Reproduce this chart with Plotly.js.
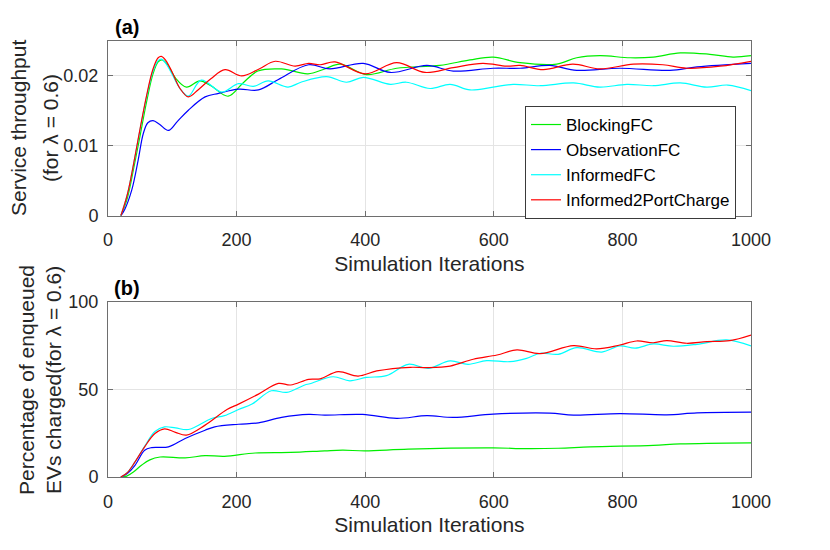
<!DOCTYPE html>
<html>
<head>
<meta charset="utf-8">
<script src="https://cdn.plot.ly/plotly-3.0.1.min.js"></script>
<style>html,body{margin:0;padding:0;background:#fff;}#chart{width:830px;height:550px;}</style>
</head>
<body>
<div id="chart"></div>
<script>
// ---- Panel (a): Service throughput ----
const seriesNames = ["BlockingFC", "ObservationFC", "InformedFC", "Informed2PortCharge"];

const xThrBlocking = [20,30,40,50,60,70,78,84,92,105,122,143,160,187,210,233,270,311,337,361,402,449,516,563,599,641,698,729,765,812,848,890,936,972,1000];
const yThrBlocking = [0,0.0025,0.0068,0.0115,0.0163,0.0203,0.0220,0.0223,0.0217,0.0197,0.0184,0.0193,0.0186,0.0171,0.0190,0.0207,0.0210,0.0203,0.0210,0.0217,0.0202,0.0211,0.0215,0.0223,0.0227,0.0219,0.0217,0.0226,0.0229,0.0226,0.0227,0.0233,0.0231,0.0227,0.0229];

const xThrObservation = [20,26,37,47,55,62,70,80,94,108,125,151,172,203,234,265,312,345,397,439,496,537,599,641,687,729,796,874,916,1000];
const yThrObservation = [0,0.0009,0.0037,0.0080,0.0118,0.0133,0.0136,0.0131,0.0122,0.0135,0.0151,0.0170,0.0175,0.0181,0.0180,0.0195,0.0216,0.0210,0.0218,0.0205,0.0215,0.0207,0.0211,0.0211,0.0215,0.0208,0.0211,0.0208,0.0213,0.0218];

const xThrInformed = [20,30,40,50,60,70,78,83,90,100,112,125,145,177,203,226,249,280,300,340,371,397,439,464,501,532,563,599,630,672,724,765,807,848,890,931,964,1000];
const yThrInformed = [0,0.0030,0.0075,0.0124,0.0170,0.0207,0.0222,0.0224,0.0218,0.0202,0.0182,0.0171,0.0194,0.0177,0.0189,0.0185,0.0193,0.0184,0.0191,0.0199,0.0191,0.0198,0.0188,0.0191,0.0182,0.0188,0.0180,0.0184,0.0188,0.0186,0.0190,0.0184,0.0188,0.0186,0.0190,0.0184,0.0187,0.0179];

const xThrInformed2 = [20,30,40,50,60,70,78,83,90,100,112,125,140,160,182,208,235,260,291,312,330,353,400,449,493,537,583,620,641,677,723,765,817,863,900,952,1000];
const yThrInformed2 = [0,0.0030,0.0075,0.0125,0.0172,0.0210,0.0226,0.0228,0.0222,0.0205,0.0182,0.0170,0.0180,0.0196,0.0209,0.0200,0.0210,0.0221,0.0214,0.0218,0.0216,0.0220,0.0203,0.0219,0.0205,0.0212,0.0218,0.0214,0.0215,0.0209,0.0217,0.0210,0.0217,0.0216,0.0211,0.0214,0.0221];

// ---- Panel (b): Percentage of enqueued EVs charged ----
const xPctBlocking = [20,29,40,52,65,81,120,151,181,229,284,337,365,400,467,599,650,700,750,848,890,1000];
const yPctBlocking = [0,0.5,3,6.7,9.8,11.4,10.9,12.2,11.8,13.7,14,14.9,15.3,14.9,15.9,16.6,16.2,16.4,17.2,18.1,18.9,19.5];

const xPctObservation = [20,30,42,57,68,94,120,151,166,203,234,270,312,337,396,449,496,537,599,687,724,796,869,916,1000];
const yPctObservation = [0,2,6.7,15.3,16.8,17.2,22,26.7,28.6,30.1,30.9,34,35.7,35.3,35.7,33.4,35,34,35.9,36.5,35.3,36.2,35.5,36.6,37];

const xPctInformed = [20,30,42,57,73,88,105,125,161,181,203,224,254,278,306,314,350,376,402,433,467,498,532,560,589,625,651,672,700,729,768,796,820,848,879,916,962,1000];
const yPctInformed = [0,2.5,8.6,17.5,26,28.6,28,27.1,33.4,35,38.5,41.6,49.2,48.3,52.5,53.2,57.2,54.9,56.8,57.8,64.3,62,66.2,64.3,66.4,65.8,67.7,70.6,70,73.8,71.3,74.8,73.5,75.9,74.6,75.7,78.2,74.8];

const xPctInformed2 = [20,30,42,57,73,88,105,122,151,185,203,234,265,284,312,330,358,389,418,470,496,532,568,605,636,672,724,760,796,822,848,869,900,931,967,1000];
const yPctInformed2 = [0,2.5,8.6,17.2,24.8,27.5,25.5,23.9,29.6,38.5,41.6,47.3,53.4,52.5,55.7,56,60.1,57.6,60.5,62.6,62.4,63.3,67.2,69.6,72.5,70.4,75,73.1,75.3,77.6,76.6,77.8,76.3,77.2,77.8,81];

const seriesColors = ["#00ee00", "#0000ff", "#00ffff", "#ff0000"];

const xTickVals = [0,200,400,600,800,1000];
const yTickValsA = [0,0.01,0.02];
const yTickTextA = ["0","0.01","0.02"];
const yTickValsB = [0,50,100];

const thrX = [xThrBlocking, xThrObservation, xThrInformed, xThrInformed2];
const thrY = [yThrBlocking, yThrObservation, yThrInformed, yThrInformed2];
const pctX = [xPctBlocking, xPctObservation, xPctInformed, xPctInformed2];
const pctY = [yPctBlocking, yPctObservation, yPctInformed, yPctInformed2];

const traces = [];
for (let i = 0; i < 4; i++) {
  traces.push({
    x: thrX[i], y: thrY[i], name: seriesNames[i], type: "scatter", mode: "lines",
    line: {color: seriesColors[i], width: 1.2, shape: "spline", smoothing: 1},
    xaxis: "x", yaxis: "y", showlegend: true, hoverinfo: "skip"
  });
}
for (let i = 0; i < 4; i++) {
  traces.push({
    x: pctX[i], y: pctY[i], name: seriesNames[i], type: "scatter", mode: "lines",
    line: {color: seriesColors[i], width: 1.2, shape: "spline", smoothing: 1},
    xaxis: "x2", yaxis: "y2", showlegend: false, hoverinfo: "skip"
  });
}

const FONT = "Liberation Sans, Arial, Helvetica, sans-serif";
const axisCommon = {
  showline: true, linecolor: "#6e6e6e", linewidth: 1, mirror: "allticks",
  ticks: "inside", ticklen: 5, tickcolor: "#6e6e6e", tickwidth: 1,
  showgrid: true, gridcolor: "#e4e4e4", gridwidth: 1, zeroline: false,
  tickfont: {family: FONT, size: 18, color: "#262626"}, automargin: false, fixedrange: true
};

const layout = {
  width: 830, height: 550,
  margin: {l: 108, r: 79, t: 41, b: 73},
  paper_bgcolor: "#ffffff", plot_bgcolor: "#ffffff",
  font: {family: FONT, color: "#262626"},
  showlegend: true,
  legend: {
    x: 0.6485, y: 0.851, xanchor: "left", yanchor: "top",
    bgcolor: "#ffffff", bordercolor: "#3a3a3a", borderwidth: 1,
    font: {family: FONT, size: 17, color: "#000000"},
    tracegroupgap: 0, itemwidth: 30
  },
  xaxis: Object.assign({}, axisCommon, {
    domain: [0, 1], anchor: "y", range: [0, 1000], tickvals: xTickVals,
    ticklabelstandoff: 8,
    title: {text: "Simulation Iterations", font: {family: FONT, size: 21, color: "#262626"}, standoff: 6}
  }),
  yaxis: Object.assign({}, axisCommon, {
    domain: [0.5993, 1], anchor: "x", range: [0, 0.025], tickvals: yTickValsA, ticktext: yTickTextA,
    ticklabelstandoff: 5
  }),
  xaxis2: Object.assign({}, axisCommon, {
    domain: [0, 1], anchor: "y2", range: [0, 1000], tickvals: xTickVals,
    ticklabelstandoff: 8,
    title: {text: "Simulation Iterations", font: {family: FONT, size: 21, color: "#262626"}, standoff: 6}
  }),
  yaxis2: Object.assign({}, axisCommon, {
    domain: [0, 0.402], anchor: "x2", range: [0, 100], tickvals: yTickValsB,
    ticklabelstandoff: 5
  }),
  annotations: [
    {text: "<b>(a)</b>", xref: "paper", yref: "paper", x: 0.0295, y: 1.032, xanchor: "center", yanchor: "middle",
     showarrow: false, font: {family: FONT, size: 20, color: "#000000"}},
    {text: "<b>(b)</b>", xref: "paper", yref: "paper", x: 0.0295, y: 0.4335, xanchor: "center", yanchor: "middle",
     showarrow: false, font: {family: FONT, size: 20, color: "#000000"}},
    {text: "Service throughput", xref: "paper", yref: "paper", x: 0, xshift: -89.5, y: 0.7993,
     xanchor: "center", yanchor: "middle", textangle: -90, showarrow: false,
     font: {family: FONT, size: 21, color: "#262626"}},
    {text: "(for λ = 0.6)", xref: "paper", yref: "paper", x: 0, xshift: -57.5, y: 0.7993,
     xanchor: "center", yanchor: "middle", textangle: -90, showarrow: false,
     font: {family: FONT, size: 21, color: "#262626"}},
    {text: "Percentage of enqueued", xref: "paper", yref: "paper", x: 0, xshift: -81, y: 0.2225,
     xanchor: "center", yanchor: "middle", textangle: -90, showarrow: false,
     font: {family: FONT, size: 21, color: "#262626"}},
    {text: "EVs charged(for λ = 0.6)", xref: "paper", yref: "paper", x: 0, xshift: -54, y: 0.2225,
     xanchor: "center", yanchor: "middle", textangle: -90, showarrow: false,
     font: {family: FONT, size: 21, color: "#262626"}}
  ]
};

Plotly.newPlot("chart", traces, layout, {staticPlot: true, displayModeBar: false});
</script>
</body>
</html>
